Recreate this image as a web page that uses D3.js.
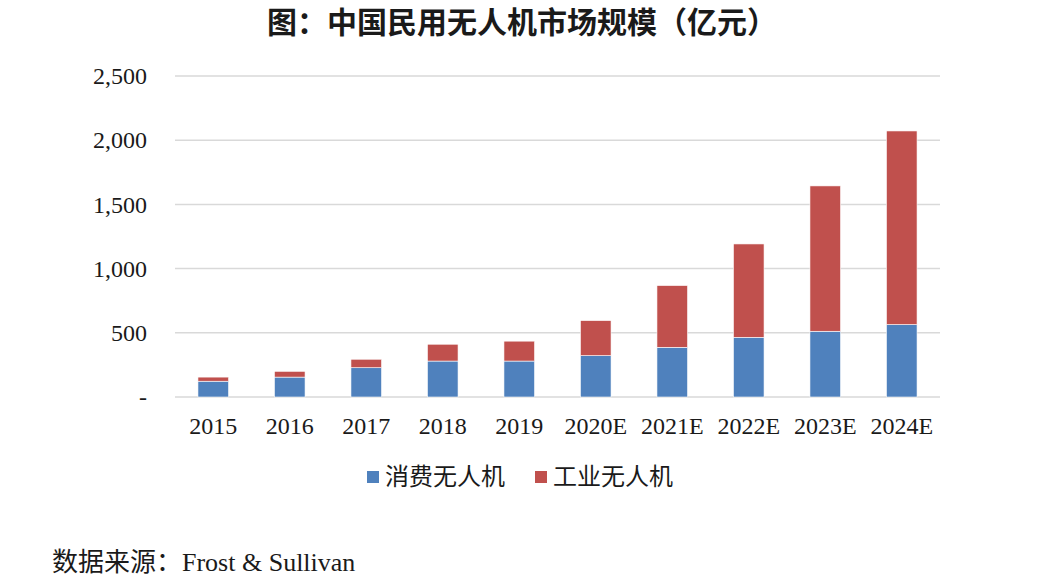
<!DOCTYPE html>
<html>
<head>
<meta charset="utf-8">
<script src="https://cdn.jsdelivr.net/npm/d3@7"></script>
<style>
  body { margin: 0; background: #fff; }
  svg text { font-family: "Liberation Serif", "Times New Roman", "Noto Sans CJK SC", serif; fill: #1a1a1a; }
  .cjk { font-family: "Liberation Serif", "Noto Sans CJK SC", serif; }
</style>
</head>
<body>
<svg id="chart" width="1048" height="587"></svg>
<script>
// data (亿元)
var years = ["2015", "2016", "2017", "2018", "2019", "2020E", "2021E", "2022E", "2023E", "2024E"];
var consumer = [123, 155, 228, 280, 280, 322, 387, 465, 512, 564];
var industrial = [32, 45, 66, 131, 155, 273, 481, 727, 1132, 1508];
var yTicks = [0, 500, 1000, 1500, 2000, 2500];
var seriesNames = ["消费无人机", "工业无人机"];
var colors = ["#4f81bd", "#c0504d"];

var svg = d3.select("#chart");
var margin = {top: 76, left: 175, right: 108, bottom: 190};
var width = 1048 - margin.left - margin.right,
    height = 587 - margin.top - margin.bottom;

var rows = years.map(function (y, i) {
  return {year: y, consumer: consumer[i], industrial: industrial[i]};
});
var stack = d3.stack().keys(["consumer", "industrial"])(rows);

var x = d3.scaleBand().domain(years).range([0, width]).paddingInner(0.6).paddingOuter(0.3);
var y = d3.scaleLinear().domain([0, 2500]).range([height, 0]);

var g = svg.append("g").attr("transform", "translate(" + margin.left + "," + margin.top + ")");

// gridlines
g.selectAll(".grid").data(yTicks).enter().append("line")
  .attr("x1", 0).attr("x2", width)
  .attr("y1", function (d) { return y(d); })
  .attr("y2", function (d) { return y(d); })
  .attr("stroke", "#d9d9d9").attr("stroke-width", 1.5);

// y labels
var yAxis = d3.axisLeft(y).tickValues(yTicks).tickSize(0).tickPadding(28)
  .tickFormat(function (d) { return d === 0 ? "-" : d3.format(",")(d); });
var ya = g.append("g").call(yAxis);
ya.select(".domain").remove();
ya.selectAll("text").attr("font-size", 24).attr("font-family", "Liberation Serif").attr("fill", "#1a1a1a");

// bars
g.selectAll(".series").data(stack).enter().append("g")
  .attr("fill", function (d, i) { return colors[i]; })
  .selectAll("rect").data(function (d) { return d; }).enter().append("rect")
  .attr("x", function (d) { return x(d.data.year); })
  .attr("y", function (d) { return y(d[1]); })
  .attr("width", x.bandwidth())
  .attr("height", function (d) { return y(d[0]) - y(d[1]); })
  .attr("stroke", "#fff").attr("stroke-width", 0.6);

// x labels
var xAxis = d3.axisBottom(x).tickSize(0).tickPadding(20);
var xa = g.append("g").attr("transform", "translate(0," + height + ")").call(xAxis);
xa.select(".domain").remove();
xa.selectAll("text").attr("font-size", 24).attr("font-family", "Liberation Serif").attr("fill", "#1a1a1a");

// title
svg.append("text").attr("x", 522).attr("y", 33).attr("text-anchor", "middle")
  .attr("font-size", 30).attr("font-weight", "bold")
  .attr("font-family", "Noto Sans CJK SC")
  .text("图：中国民用无人机市场规模（亿元）");

// legend
var legendX = [367, 535];
var leg = svg.selectAll(".leg").data(seriesNames).enter().append("g")
  .attr("transform", function (d, i) { return "translate(" + legendX[i] + ",471)"; });
leg.append("rect").attr("width", 12).attr("height", 12)
  .attr("fill", function (d, i) { return colors[i]; });
leg.append("text").attr("x", 18).attr("y", 14).attr("font-size", 24)
  .attr("font-family", "Noto Sans CJK SC").attr("fill", "#333")
  .text(function (d) { return d; });

// source
svg.append("text").attr("x", 52).attr("y", 571).attr("font-size", 26)
  .attr("class", "cjk")
  .text("数据来源：Frost & Sullivan");
</script>
</body>
</html>
